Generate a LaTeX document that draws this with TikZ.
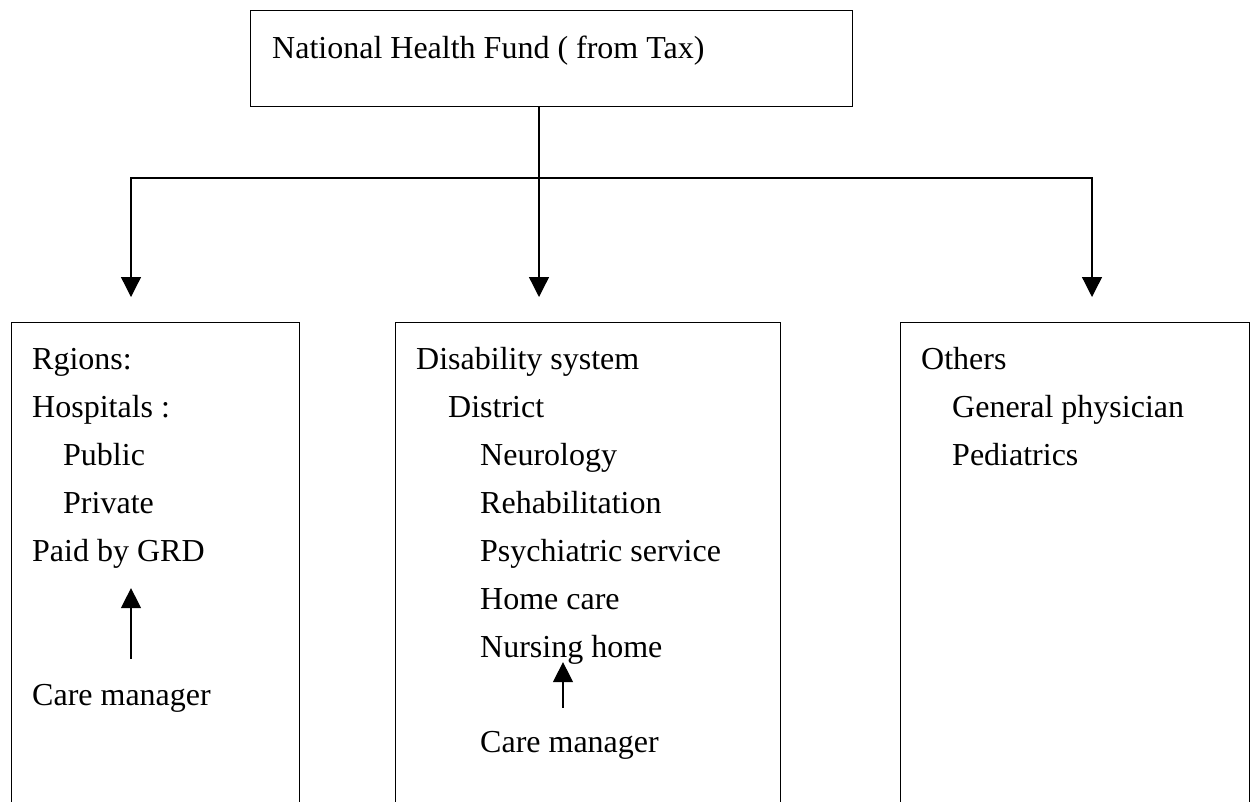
\documentclass[tikz,border=0pt]{standalone}
\usepackage{fontspec}
\setmainfont{Liberation Serif}
\usetikzlibrary{arrows.meta}
\tikzset{
  box/.style={draw,line width=1.3pt,inner sep=0pt},
  txt/.style={anchor=base west,inner sep=0pt,font=\fontsize{32}{38}\selectfont},
  link/.style={line width=1.3pt},
  flow/.style={line width=1.3pt,-{Triangle[length=20pt,width=20pt]}}
}

\begin{document}
\begin{tikzpicture}[x=1pt,y=-1pt]
\useasboundingbox (0,0) rectangle (1257,801);
\clip (0,0) rectangle (1257,801);
% fund box on top
\node[box,anchor=north west,minimum width=602pt,minimum height=96pt] (fund) at (250,10) {};
\node[txt] (fundtxt) at (272,58) {National Health Fund ( from Tax)};
% the three branches, open at the bottom edge
\node[box,anchor=north west,minimum width=288pt,minimum height=600pt] (regions) at (11,322) {};
\node[box,anchor=north west,minimum width=385pt,minimum height=600pt] (disab) at (395,322) {};
\node[box,anchor=north west,minimum width=349pt,minimum height=600pt] (others) at (900,322) {};
\foreach \t/\dx/\y [count=\i] in {
	Rgions:/0/369,
	Hospitals :/0/417,
	Public/31/465,
	Private/31/513,
	Paid by GRD/0/561,
	Care manager/0/705%
	}{
	\node[txt] (reg\i) at (32+\dx,\y) {\t};
	}
\foreach \t/\dx/\y [count=\i] in {
	Disability system/0/369,
	District/32/417,
	Neurology/64/465,
	Rehabilitation/64/513,
	Psychiatric service/64/561,
	Home care/64/609,
	Nursing home/64/657,
	Care manager/64/752%
	}{
	\node[txt] (dis\i) at (416+\dx,\y) {\t};
	}
\foreach \t/\dx/\y [count=\i] in {
	Others/0/369,
	General physician/31/417,
	Pediatrics/31/465%
	}{
	\node[txt] (oth\i) at (921+\dx,\y) {\t};
	}
% split from the fund
\coordinate (split) at (539,178);
\coordinate (tipL) at (131,297);
\coordinate (tipM) at (539,297);
\coordinate (tipR) at (1092,297);
\draw[link] (fund.south -| split) -- (split);
\draw[flow] (split) -| (tipL);
\draw[flow] (split) -- (tipM);
\draw[flow] (split) -| (tipR);
% care managers
\coordinate (colM) at (563,0);
\draw[flow,shorten <=25pt,shorten >=20pt] (reg6.north -| tipL) -- (reg5.south -| tipL);
\draw[flow,shorten <=23pt,shorten >=-2pt] (dis8.north -| colM) -- (dis7.south -| colM);
\end{tikzpicture}
\end{document}
